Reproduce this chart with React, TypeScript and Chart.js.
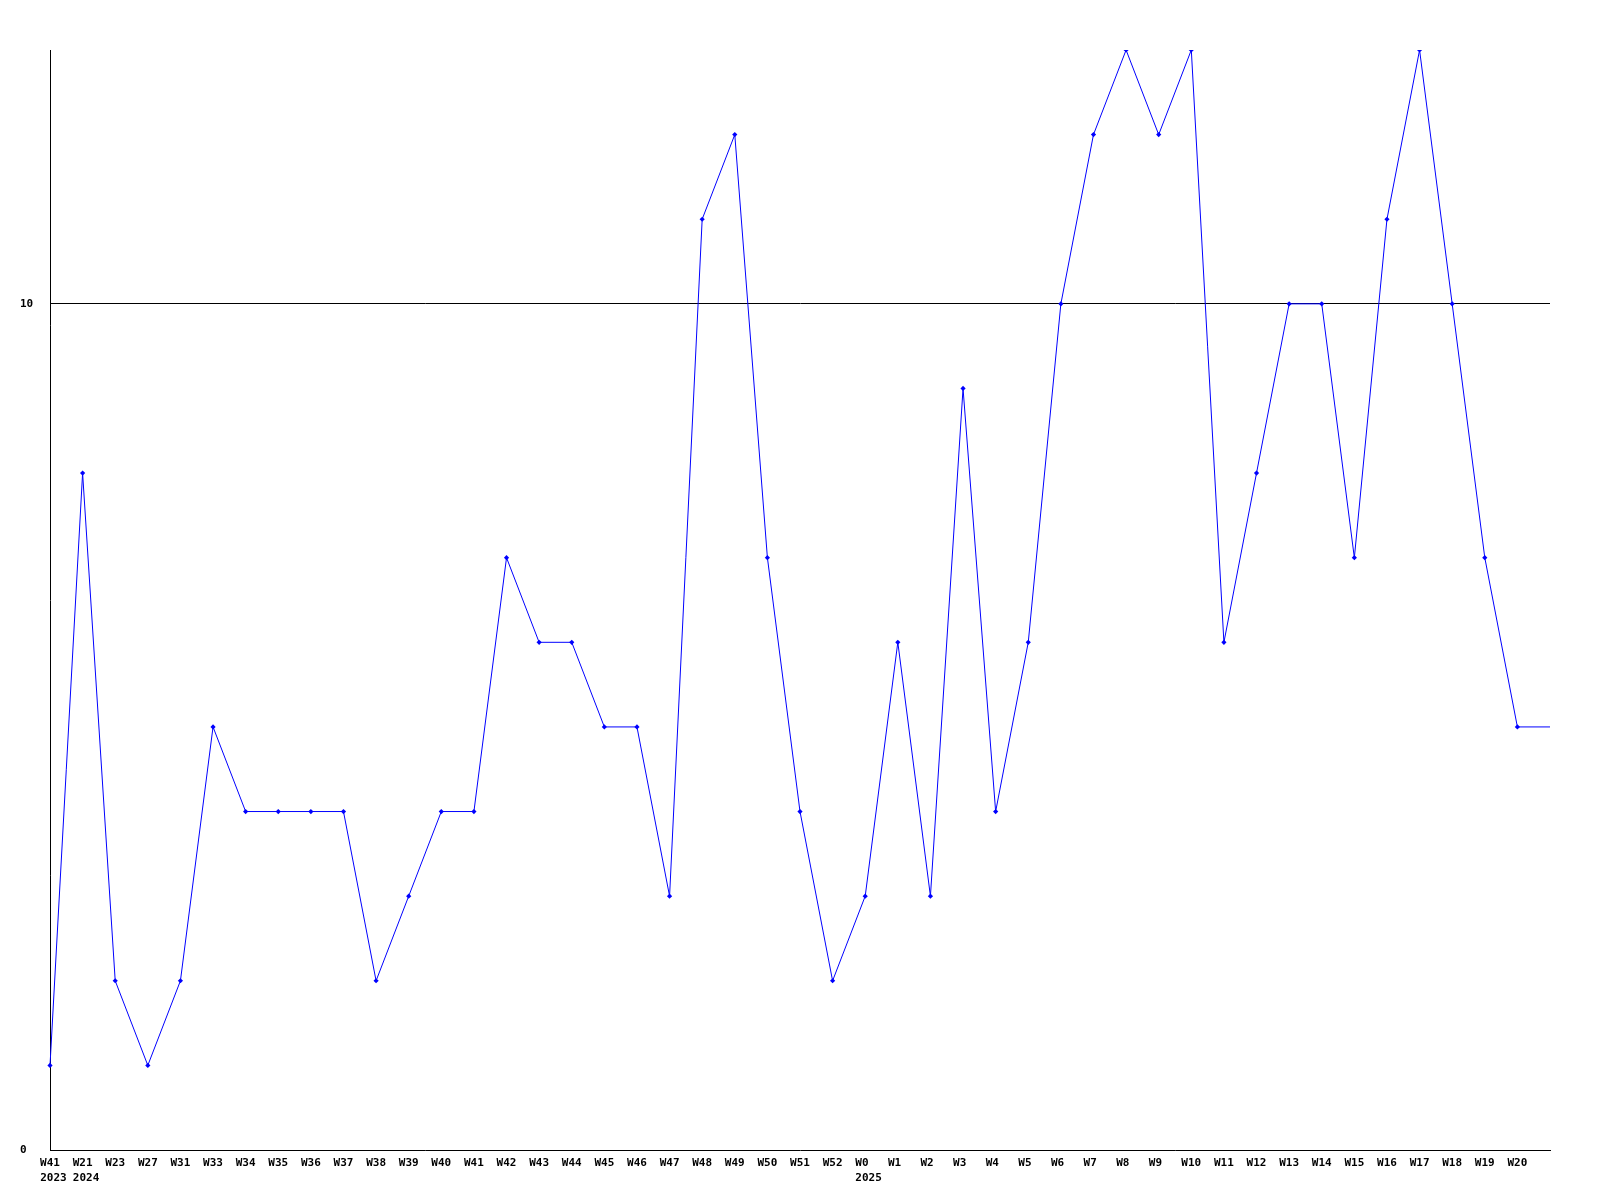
import React, { useEffect, useRef } from "react";
import { Chart, registerables } from "chart.js";

Chart.register(...registerables);

const weeks = [
  "W41", "W21", "W23", "W27", "W31", "W33", "W34", "W35", "W36", "W37",
  "W38", "W39", "W40", "W41", "W42", "W43", "W44", "W45", "W46", "W47",
  "W48", "W49", "W50", "W51", "W52", "W0", "W1", "W2", "W3", "W4",
  "W5", "W6", "W7", "W8", "W9", "W10", "W11", "W12", "W13", "W14",
  "W15", "W16", "W17", "W18", "W19", "W20", "",
];
const years = [
  "2023", "2024", "", "", "", "", "", "", "", "",
  "", "", "", "", "", "", "", "", "", "",
  "", "", "", "", "", "2025", "", "", "", "",
  "", "", "", "", "", "", "", "", "", "",
  "", "", "", "", "", "", "",
];
const values = [
  1, 8, 2, 1, 2, 5, 4, 4, 4, 4,
  2, 3, 4, 4, 7, 6, 6, 5, 5, 3,
  11, 12, 7, 4, 2, 3, 6, 3, 9, 4,
  6, 10, 12, 13, 12, 13, 6, 8, 10, 10,
  7, 11, 13, 10, 7, 5, 5,
];
const yTicks = [0, 10];
const yMax = 13;

export default function App() {
  const ref = useRef<HTMLCanvasElement | null>(null);
  useEffect(() => {
    if (!ref.current) return;
    const font = { family: "'DejaVu Sans Mono', monospace", size: 11, weight: "bold" as const, lineHeight: 1.35 };
    // labels start at the same left offset from their tick: pad short ones on the right
    const weekLabels = weeks.map((w) => (w.length > 0 && w.length < 3 ? w.padEnd(3, " ") : w));
    const chart = new Chart(ref.current, {
      type: "line",
      data: {
        labels: weekLabels,
        datasets: [
          {
            data: values,
            xAxisID: "x",
            yAxisID: "y",
            borderColor: "#0000ff",
            backgroundColor: "#0000ff",
            borderWidth: 1,
            pointStyle: "rectRot",
            pointRadius: values.map((_, i) => (i === values.length - 1 ? 0 : 2.6)),
            pointBorderWidth: 0,
            tension: 0,
            fill: false,
          },
        ],
      },
      options: {
        animation: false,
        responsive: false,
        devicePixelRatio: 1,
        layout: { padding: { top: 50, right: 50, left: 20, bottom: 0 } },
        plugins: { legend: { display: false }, tooltip: { enabled: false } },
        scales: {
          x: {
            type: "category",
            position: "bottom",
            weight: 1,
            offset: false,
            grid: { display: false, drawTicks: false },
            border: { display: true, color: "#000000", width: 1 },
            ticks: {
              autoSkip: false,
              maxRotation: 0,
              minRotation: 0,
              padding: 6,
              color: "#000000",
              font,
            },
            afterFit: (s: any) => {
              s.height = 16;
            },
          },
          x2: {
            type: "category",
            position: "bottom",
            weight: 2,
            labels: years,
            offset: false,
            grid: { display: false, drawTicks: false },
            border: { display: false },
            ticks: {
              autoSkip: false,
              maxRotation: 0,
              minRotation: 0,
              padding: 5,
              labelOffset: 3.4,
              color: "#000000",
              font,
            },
            afterFit: (s: any) => {
              s.height = 34;
            },
          },
          y: {
            min: 0,
            max: yMax,
            grid: {
              drawTicks: false,
              color: (ctx: any) => (ctx.tick && ctx.tick.value === 10 ? "#000000" : "rgba(0,0,0,0)"),
              lineWidth: 1,
            },
            border: { display: true, color: "#000000", width: 1 },
            ticks: {
              padding: 17,
              crossAlign: "far",
              color: "#000000",
              font,
            },
            afterBuildTicks: (s: any) => {
              s.ticks = yTicks.map((v) => ({ value: v }));
            },
            afterFit: (s: any) => {
              s.width = 30;
            },
          },
        },
      },
    });
    return () => chart.destroy();
  }, []);
  return (
    <div style={{ position: "fixed", left: 0, top: 0, width: 1600, height: 1200, background: "#ffffff" }}>
      <canvas ref={ref} width={1600} height={1200} style={{ width: 1600, height: 1200 }} />
    </div>
  );
}
